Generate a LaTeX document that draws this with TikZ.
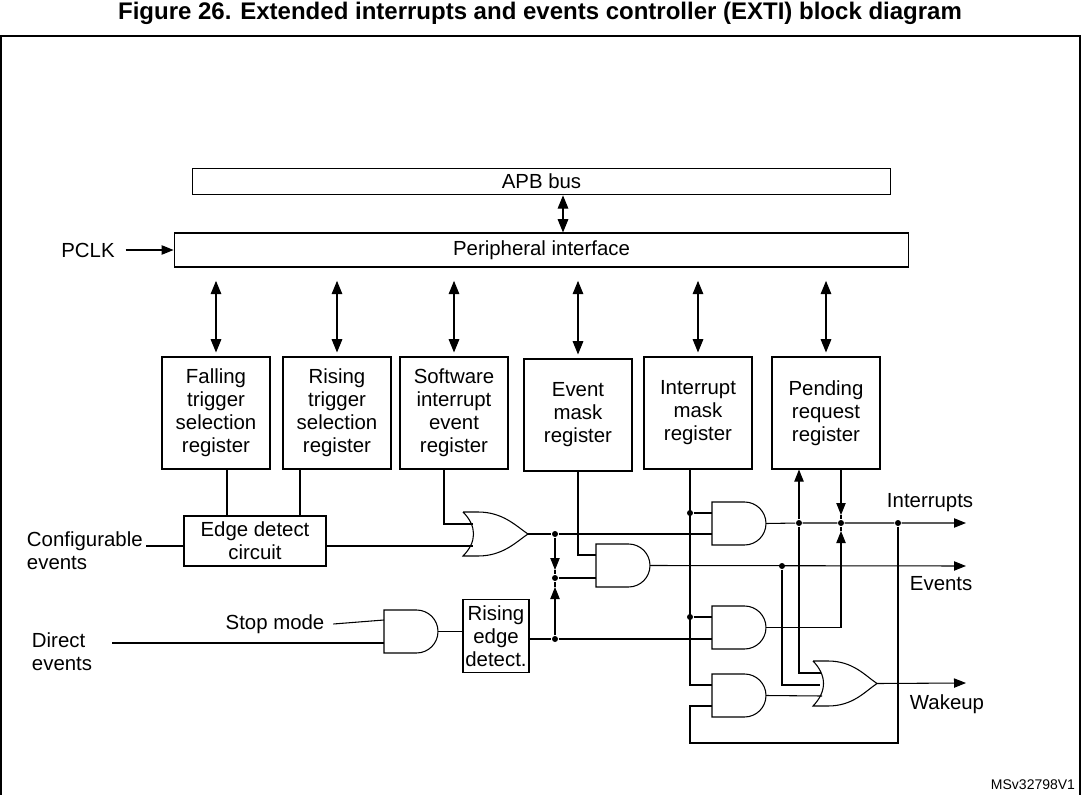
\documentclass[tikz,border=0pt]{standalone}
\usepackage{fontspec}
\setmainfont{Liberation Sans}
\usetikzlibrary{arrows.meta}

\newcommand\andgate[6]{% name, left, top, bottom, input 1, input 2
  \pgfmathsetmacro\gr{(#4-#3)/2}
  \pgfmathsetmacro\gm{(#3+#4)/2}
  \draw (#2,#3) -- ({#2+54-\gr},#3) arc[start angle=90,end angle=-90,radius=\gr*0.75pt]
        -- (#2,#4) -- cycle;
  \coordinate (#1i1) at (#2,#5);
  \coordinate (#1i2) at (#2,#6);
  \coordinate (#1o)  at (#2+54,\gm);
}
\newcommand\orgate[5]{% name, left, top, bottom, tip
  \pgfmathsetmacro\gm{(#3+#4)/2}
  \draw (#2,#3) -- (#2+15,#3) .. controls (#2+40,#3) and (#5-12,\gm-8) .. (#5,\gm)
        .. controls (#5-12,\gm+8) and (#2+40,#4) .. (#2+15,#4) -- (#2,#4)
        .. controls (#2+14,\gm+8) and (#2+14,\gm-8) .. (#2,#3);
  \coordinate (#1o) at (#5,\gm);
}

\begin{document}
\begin{tikzpicture}[
    x=0.75pt, y=-0.75pt,
    line width=0.8pt,
    font=\fontsize{15.3}{17.2}\selectfont,
    box/.style  = {draw, align=center, inner sep=1pt},
    reg/.style  = {box, minimum width=81pt, minimum height=84pt},
    dbl/.style  = {{Triangle[length=10pt,width=8pt]}-{Triangle[length=10pt,width=8pt]}},
    arr/.style  = {-{Triangle[length=9pt,width=7pt]}},
    dot/.style  = {fill, circle, inner sep=0pt, minimum size=4.5pt}
]
\useasboundingbox (0,0) rectangle (1081,795);
\draw (1,36) rectangle (1080,800);
\node (title) at (540,13) {\fontsize{18}{20}\selectfont\bfseries Figure 26. Extended interrupts and events controller (EXTI) block diagram};
\node (ver) [anchor=east, font=\fontsize{10.5}{11}\selectfont] at (1080,785) {MSv32798V1};

\node (apb) [box, minimum width=524pt, minimum height=20pt] at (541.5,181.5) {APB bus};
\node (per) [box, minimum width=551pt, minimum height=25.5pt] at (541.5,250) {Peripheral interface};
\draw[dbl] (apb.south -| 563,0) -- (per.north -| 563,0);
\node (pclk) at (88,250) {PCLK};
\draw[arr] (pclk.east) ++(6,0) -- (per.west);

\node (r0) [reg] at (216,413) {Falling\\trigger\\selection\\register};
\node (r1) [reg] at (337,413) {Rising\\trigger\\selection\\register};
\node (r2) [reg] at (454,413) {Software\\interrupt\\event\\register};
\node (r3) [reg] at (578,415) {Event\\mask\\register};
\node (r4) [reg] at (698,413) {Interrupt\\mask\\register};
\node (r5) [reg] at (826,413) {Pending\\request\\register};
\foreach \r in {r0,r1,r2,r3,r4,r5}
  \draw[dbl] ([yshift=-10pt]per.south -| \r.north) -- ([yshift=3pt]\r.north);

\node (edge) [box, minimum width=106.5pt, minimum height=37.5pt] at (255,541) {Edge detect\\circuit};
\node (rise) [box, minimum width=49.5pt, minimum height=55pt, inner sep=0pt] at (496,636) {Rising\\edge\\detect.};
\node (cfg) [anchor=west, align=left] at (22,551) {Configurable\\events};
\node (dir) [anchor=west, align=left] at (27,652) {Direct\\events};
\node (stop) at (275,624) {Stop mode};
\node (int) [anchor=west] at (882,503) {Interrupts};
\node (evt) [anchor=west] at (905,584) {Events};
\node (wak) [anchor=west] at (905,704) {Wakeup};

% gates
\andgate{g1}{712}{502}{545}{513}{534}
\andgate{g2}{596}{544}{587}{555}{578}
\andgate{g3}{712}{606}{649}{617}{639}
\andgate{g4}{712}{674}{717}{685}{706}
\andgate{gs}{384}{610}{653}{620}{643}
\orgate{o1}{463}{512}{556}{528}
\orgate{o2}{813}{661}{706}{877}

% junctions
\node (j1) [dot] at (555,534) {};
\node (j2) [dot] at (555,578) {};
\node (j3) [dot] at (555,639) {};
\node (j4) [dot] at (782,566) {};
\node (j5) [dot] at (799,523) {};
\node (j6) [dot] at (841,523) {};
\node (j7) [dot] at (898,523) {};
\node (j8) [dot] at (690,513) {};
\node (j9) [dot] at (690,617) {};
\coordinate (e1) at (966,523);
\coordinate (e2) at (966,566);
\coordinate (e3) at (966,683);

% left inputs
\draw (146,546) -- (edge.west |- 0,546);
\draw (r0.south -| 227,0) -- (edge.north -| 227,0);
\draw (r1.south -| 300,0) -- (edge.north -| 300,0);
\draw (r2.south -| 444,0) |- (473,524);
\draw (edge.east |- 0,546) -- (473,546);
\draw (stop.east) ++(4,0) -- (gsi1);
\draw (112,643) -- (gsi2);
\draw (gso) -- (rise.west |- gso);

% events path
\draw (o1o) -- (j1) -- (g1i2);
\draw[arr] (j1) -- (555,570);
\draw (555,570) -- (j2) -- (g2i2);
\draw[arr] (j3) -- (555,587);
\draw (555,587) -- (j2);
\draw (rise.east |- j3) -- (j3) -- (g3i2);
\draw (r3.south -| 578,0) |- (g2i1);
\draw[arr] (g2o) -- (e2);
\draw (j4) -- (782,685) -- (820,685);

% interrupt mask
\draw (r4.south -| 690,0) -- (690,685) -- (g4i1);
\draw (j8) -- (g1i1);
\draw (j9) -- (g3i1);

% interrupts and pending
\draw[arr] (g1o) -- (j5) -- (j6) -- (j7) -- (e1);
\draw[arr] (j5) -- (r5.south -| j5);
\draw (j5) -- (799,673) -- (821,673);
\draw[arr] (r5.south -| j6) -- (841,515);
\draw (841,515) -- (j6);
\draw[arr] (g3o) -| (841,531);
\draw (841,531) -- (j6);
\draw (j7) -- (898,743) -| (690,706) -- (g4i2);
\draw (g4o) -- (822,696);
\draw[arr] (o2o) -- (e3);
\end{tikzpicture}
\end{document}
